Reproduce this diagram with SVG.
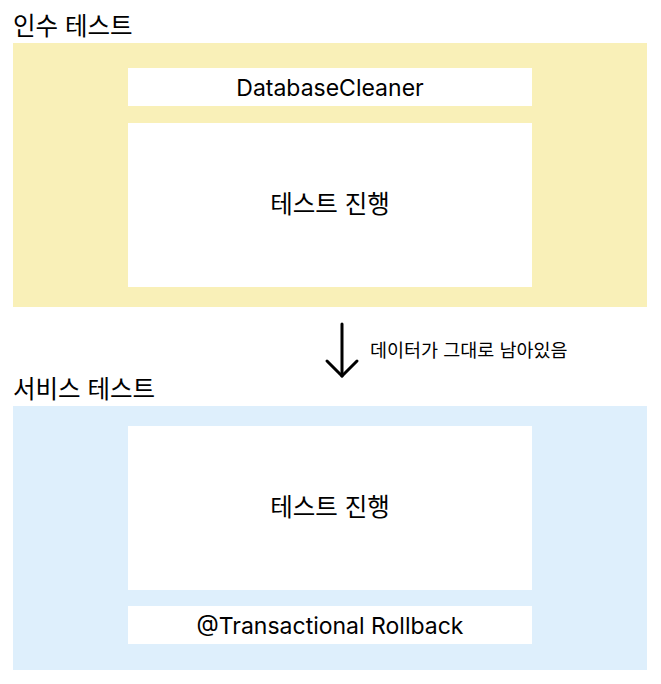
<svg xmlns="http://www.w3.org/2000/svg" width="661" height="684" viewBox="0 0 661 684">
<style>
text{font-family:Inter,"Noto Sans CJK KR",sans-serif;fill:#000}
.title{font-size:24.5px}
.lbl{font-size:23px;text-anchor:middle}
.ko{font-size:24.5px}
.note{font-size:18.5px}
.inner{fill:#fff}
</style>
<rect width="661" height="684" fill="#fff"/>
<g id="acceptance">
<text class="title" x="13" y="35">인수 테스트</text>
<rect x="13" y="43" width="634" height="264" fill="#F9F0B8"/>
</g>
<g id="dbcleaner">
<rect class="inner" x="128" y="68" width="404" height="38"/>
<text class="lbl" x="330" y="96">DatabaseCleaner</text>
</g>
<g id="acc-run">
<rect class="inner" x="128" y="123" width="404" height="164"/>
<text class="lbl ko" x="330" y="213">테스트 진행</text>
</g>
<g id="service">
<text class="title" x="13" y="398">서비스 테스트</text>
<rect x="13" y="406" width="634" height="264" fill="#DEEFFC"/>
</g>
<g id="svc-run">
<rect class="inner" x="128" y="426" width="404" height="164"/>
<text class="lbl ko" x="330" y="516">테스트 진행</text>
</g>
<g id="rollback">
<rect class="inner" x="128" y="606" width="404" height="38"/>
<text class="lbl" x="330" y="634">@Transactional Rollback</text>
</g>
<g id="connectors" fill="none" stroke="#000" stroke-width="3" stroke-linecap="round" stroke-linejoin="round">
<line x1="342" y1="324" x2="342" y2="376"/>
<polyline points="327,361 342,376 357,361"/>
</g>
<text class="note" x="370" y="357">데이터가 그대로 남아있음</text>
</svg>
